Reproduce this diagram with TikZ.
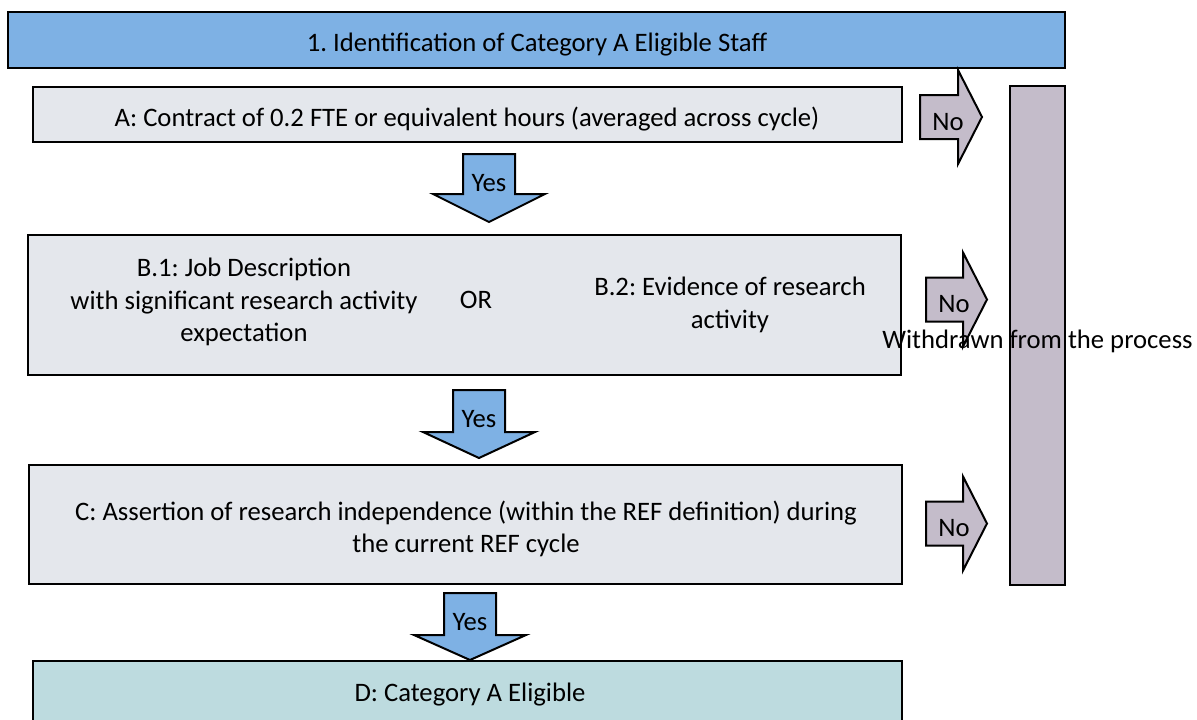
\documentclass[tikz,border=0pt]{standalone}
\usepackage{fontspec}
\setmainfont{Carlito}
\frenchspacing

\begin{document}
\begin{tikzpicture}[x=1pt,y=-1pt,
  stepbox/.style={draw,line width=2.8pt,inner sep=0pt},
  blockarrow/.style={draw,line width=2pt,line join=miter},
  txt/.style={font=\fontsize{26.67}{32.5}\selectfont,align=center,inner sep=0pt,yshift=-2pt}]
\definecolor{titleblue}{HTML}{7EB1E4}
\definecolor{boxgray}{HTML}{E4E7EC}
\definecolor{withdrawn}{HTML}{C4BCCA}
\definecolor{eligible}{HTML}{BDDBDF}
\clip (0,0) rectangle (1197,720);
% boxes
\node[stepbox,fill=titleblue,minimum width=1057,minimum height=56] (title) at (536.5,40) {};
\node[txt] (titletext) at (537,43) {1. Identification of Category A Eligible Staff};
\node[stepbox,fill=boxgray,minimum width=869,minimum height=55] (contract) at (467.5,114.5) {};
\node[txt] (contracttext) at (467,117) {A: Contract of 0.2 FTE or equivalent hours (averaged across cycle)};
\node[stepbox,fill=boxgray,minimum width=873,minimum height=140] (research) at (464.5,305) {};
\node[txt] (jobdesc) at (244,300) {B.1: Job Description\\with significant research activity\\expectation};
\node[txt] (or) at (476,298) {OR};
\node[txt] (evidence) at (730,303) {B.2: Evidence of research\\activity};
\node[stepbox,fill=boxgray,minimum width=873,minimum height=119] (independence) at (465.5,524.5) {};
\node[txt] (independencetext) at (466,527) {C: Assertion of research independence (within the REF definition) during\\the current REF cycle};
\node[stepbox,fill=eligible,minimum width=869,minimum height=64] (eligiblebox) at (467.5,693) {};
\node[txt] (eligibletext) at (470,693) {D: Category A Eligible};
% yes arrows
\foreach \cx/\top/\sh/\tip/\nm in {489/154/194/222/yes1,479/390/432/458/yes2,470/593/635/660/yes3}
{ \draw[blockarrow,fill=titleblue] (\cx-26,\top) -- (\cx+26,\top) -- (\cx+26,\sh) -- (\cx+56,\sh) -- (\cx,\tip) -- (\cx-56,\sh) -- (\cx-26,\sh) -- cycle;
  \node[txt] (\nm) at (\cx,\top+27) {Yes};}
% no arrows
\foreach \lx/\nx/\tx/\cy/\nm in {920/958/982/117/no1,926/963/987/299.5/no2,926/963/987/523.5/no3}
{ \draw[blockarrow,fill=withdrawn] (\lx,\cy-22) -- (\nx,\cy-22) -- (\nx,\cy-47) -- (\tx,\cy) -- (\nx,\cy+47) -- (\nx,\cy+22) -- (\lx,\cy+22) -- cycle;
  \node[txt] (\nm) at (\lx+28,\cy+3) {No};}
\node[stepbox,fill=withdrawn,minimum width=55,minimum height=499] (bar) at (1037.5,335.5) {};
\node[txt] (withdrawntext) at (1037.5,339) {Withdrawn from the process};
\end{tikzpicture}
\end{document}
